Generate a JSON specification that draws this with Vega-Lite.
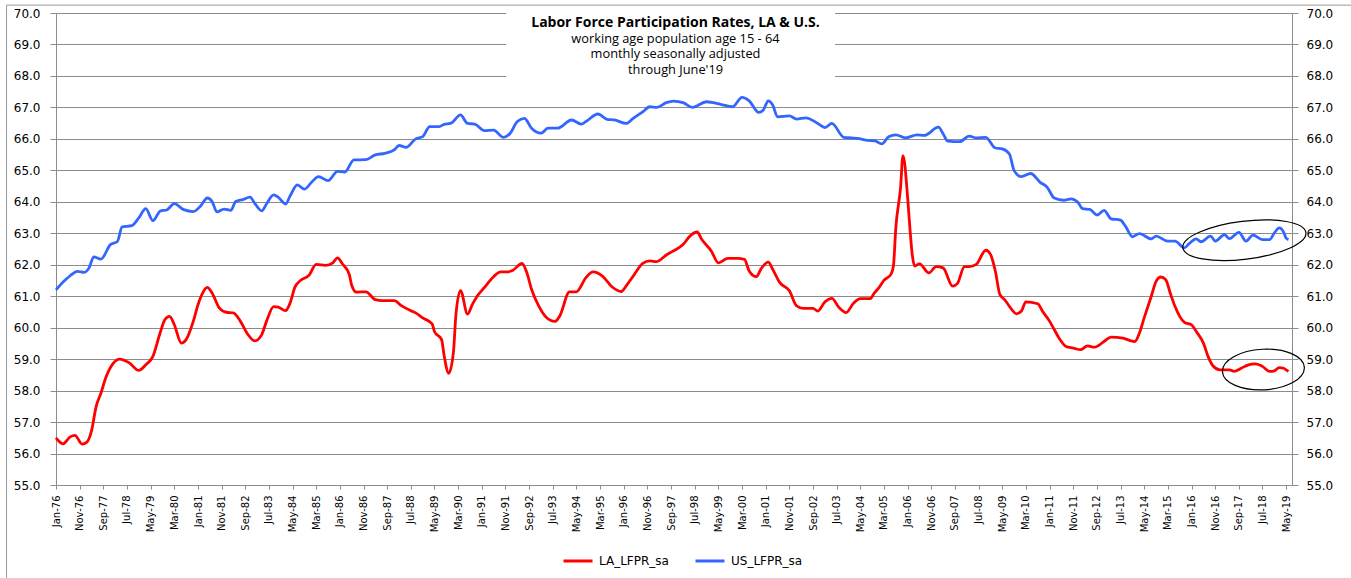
{
  "$schema": "https://vega.github.io/schema/vega-lite/v6.json",
  "width": 1236,
  "height": 472,
  "autosize": {"type": "none"},
  "padding": {"left": 56, "top": 13, "right": 59, "bottom": 93},
  "background": "white",
  "config": {"view": {"stroke": null}},
  "title": {
    "text": "Labor Force Participation Rates, LA & U.S.",
    "subtitle": ["working age population age 15 - 64", "monthly seasonally adjusted", "through June'19"],
    "anchor": "middle",
    "frame": "group",
    "offset": -72,
    "dx": 1.5,
    "font": "Open Sans",
    "fontSize": 14,
    "fontWeight": "bold",
    "color": "black",
    "subtitleFont": "Open Sans",
    "subtitleFontSize": 12.8,
    "subtitleColor": "black",
    "subtitleLineHeight": 15.4,
    "subtitlePadding": 3
  },
  "datasets": {
    "la": [
      {"date": "1976/01/01", "lfpr": 56.5}, {"date": "1976/04/01", "lfpr": 56.31}, {"date": "1976/07/01", "lfpr": 56.53}, {"date": "1976/09/01", "lfpr": 56.58},
      {"date": "1976/12/01", "lfpr": 56.3}, {"date": "1977/02/01", "lfpr": 56.36}, {"date": "1977/04/01", "lfpr": 56.71}, {"date": "1977/06/01", "lfpr": 57.5},
      {"date": "1977/08/01", "lfpr": 57.92}, {"date": "1977/10/01", "lfpr": 58.4}, {"date": "1978/01/01", "lfpr": 58.85}, {"date": "1978/04/01", "lfpr": 59.0},
      {"date": "1978/08/01", "lfpr": 58.88}, {"date": "1978/12/01", "lfpr": 58.64}, {"date": "1979/03/01", "lfpr": 58.82}, {"date": "1979/06/01", "lfpr": 59.09},
      {"date": "1979/09/01", "lfpr": 59.83}, {"date": "1979/11/01", "lfpr": 60.25}, {"date": "1980/01/01", "lfpr": 60.36}, {"date": "1980/03/01", "lfpr": 60.1},
      {"date": "1980/06/01", "lfpr": 59.51}, {"date": "1980/08/01", "lfpr": 59.62}, {"date": "1980/11/01", "lfpr": 60.2}, {"date": "1981/01/01", "lfpr": 60.73},
      {"date": "1981/03/01", "lfpr": 61.1}, {"date": "1981/05/01", "lfpr": 61.28}, {"date": "1981/07/01", "lfpr": 61.1}, {"date": "1981/10/01", "lfpr": 60.63},
      {"date": "1982/01/01", "lfpr": 60.49}, {"date": "1982/04/01", "lfpr": 60.47}, {"date": "1982/07/01", "lfpr": 60.2}, {"date": "1982/10/01", "lfpr": 59.8},
      {"date": "1983/01/01", "lfpr": 59.58}, {"date": "1983/04/01", "lfpr": 59.78}, {"date": "1983/06/01", "lfpr": 60.2}, {"date": "1983/09/01", "lfpr": 60.67},
      {"date": "1983/11/01", "lfpr": 60.65}, {"date": "1984/02/01", "lfpr": 60.54}, {"date": "1984/04/01", "lfpr": 60.79}, {"date": "1984/06/01", "lfpr": 61.29},
      {"date": "1984/08/01", "lfpr": 61.48}, {"date": "1984/12/01", "lfpr": 61.67}, {"date": "1985/03/01", "lfpr": 62.01}, {"date": "1985/07/01", "lfpr": 61.98},
      {"date": "1985/10/01", "lfpr": 62.06}, {"date": "1985/12/01", "lfpr": 62.22}, {"date": "1986/02/01", "lfpr": 62.03}, {"date": "1986/05/01", "lfpr": 61.69},
      {"date": "1986/06/01", "lfpr": 61.35}, {"date": "1986/08/01", "lfpr": 61.13}, {"date": "1986/12/01", "lfpr": 61.14}, {"date": "1987/04/01", "lfpr": 60.89},
      {"date": "1987/07/01", "lfpr": 60.86}, {"date": "1987/12/01", "lfpr": 60.86}, {"date": "1988/03/01", "lfpr": 60.7}, {"date": "1988/07/01", "lfpr": 60.54},
      {"date": "1988/09/01", "lfpr": 60.47}, {"date": "1988/12/01", "lfpr": 60.31}, {"date": "1989/04/01", "lfpr": 60.12}, {"date": "1989/05/01", "lfpr": 59.88},
      {"date": "1989/08/01", "lfpr": 59.62}, {"date": "1989/09/01", "lfpr": 59.14}, {"date": "1989/11/01", "lfpr": 58.55}, {"date": "1990/01/01", "lfpr": 59.24},
      {"date": "1990/02/01", "lfpr": 60.41}, {"date": "1990/04/01", "lfpr": 61.18}, {"date": "1990/07/01", "lfpr": 60.43}, {"date": "1990/09/01", "lfpr": 60.74},
      {"date": "1990/11/01", "lfpr": 61.0}, {"date": "1991/02/01", "lfpr": 61.27}, {"date": "1991/06/01", "lfpr": 61.62}, {"date": "1991/09/01", "lfpr": 61.77},
      {"date": "1991/12/01", "lfpr": 61.77}, {"date": "1992/02/01", "lfpr": 61.82}, {"date": "1992/06/01", "lfpr": 62.04}, {"date": "1992/08/01", "lfpr": 61.75},
      {"date": "1992/10/01", "lfpr": 61.22}, {"date": "1993/01/01", "lfpr": 60.69}, {"date": "1993/04/01", "lfpr": 60.35}, {"date": "1993/08/01", "lfpr": 60.2},
      {"date": "1993/10/01", "lfpr": 60.38}, {"date": "1994/02/01", "lfpr": 61.14}, {"date": "1994/05/01", "lfpr": 61.14}, {"date": "1994/09/01", "lfpr": 61.59},
      {"date": "1994/12/01", "lfpr": 61.77}, {"date": "1995/04/01", "lfpr": 61.64}, {"date": "1995/08/01", "lfpr": 61.3}, {"date": "1995/12/01", "lfpr": 61.15},
      {"date": "1996/02/01", "lfpr": 61.33}, {"date": "1996/05/01", "lfpr": 61.64}, {"date": "1996/09/01", "lfpr": 62.04}, {"date": "1996/12/01", "lfpr": 62.12},
      {"date": "1997/03/01", "lfpr": 62.1}, {"date": "1997/07/01", "lfpr": 62.31}, {"date": "1997/10/01", "lfpr": 62.44}, {"date": "1998/02/01", "lfpr": 62.64},
      {"date": "1998/05/01", "lfpr": 62.91}, {"date": "1998/08/01", "lfpr": 63.04}, {"date": "1998/10/01", "lfpr": 62.8}, {"date": "1999/02/01", "lfpr": 62.43},
      {"date": "1999/05/01", "lfpr": 62.06}, {"date": "1999/09/01", "lfpr": 62.2}, {"date": "2000/01/01", "lfpr": 62.2}, {"date": "2000/04/01", "lfpr": 62.17},
      {"date": "2000/06/01", "lfpr": 61.8}, {"date": "2000/09/01", "lfpr": 61.62}, {"date": "2000/11/01", "lfpr": 61.87}, {"date": "2001/02/01", "lfpr": 62.08},
      {"date": "2001/04/01", "lfpr": 61.85}, {"date": "2001/07/01", "lfpr": 61.43}, {"date": "2001/11/01", "lfpr": 61.17}, {"date": "2002/02/01", "lfpr": 60.69},
      {"date": "2002/05/01", "lfpr": 60.61}, {"date": "2002/09/01", "lfpr": 60.61}, {"date": "2002/11/01", "lfpr": 60.53}, {"date": "2003/02/01", "lfpr": 60.82},
      {"date": "2003/05/01", "lfpr": 60.93}, {"date": "2003/08/01", "lfpr": 60.64}, {"date": "2003/11/01", "lfpr": 60.48}, {"date": "2004/02/01", "lfpr": 60.77},
      {"date": "2004/05/01", "lfpr": 60.92}, {"date": "2004/09/01", "lfpr": 60.92}, {"date": "2004/11/01", "lfpr": 61.11}, {"date": "2005/01/01", "lfpr": 61.29},
      {"date": "2005/03/01", "lfpr": 61.5}, {"date": "2005/06/01", "lfpr": 61.7}, {"date": "2005/07/01", "lfpr": 61.96}, {"date": "2005/08/01", "lfpr": 63.18},
      {"date": "2005/10/01", "lfpr": 64.46}, {"date": "2005/11/01", "lfpr": 65.47}, {"date": "2006/01/01", "lfpr": 64.1}, {"date": "2006/02/01", "lfpr": 63.07},
      {"date": "2006/03/01", "lfpr": 62.3}, {"date": "2006/04/01", "lfpr": 61.96}, {"date": "2006/06/01", "lfpr": 62.03}, {"date": "2006/10/01", "lfpr": 61.74},
      {"date": "2007/01/01", "lfpr": 61.94}, {"date": "2007/04/01", "lfpr": 61.9}, {"date": "2007/08/01", "lfpr": 61.32}, {"date": "2007/10/01", "lfpr": 61.4},
      {"date": "2008/01/01", "lfpr": 61.94}, {"date": "2008/03/01", "lfpr": 61.94}, {"date": "2008/06/01", "lfpr": 62.01}, {"date": "2008/10/01", "lfpr": 62.46},
      {"date": "2008/12/01", "lfpr": 62.33}, {"date": "2009/02/01", "lfpr": 61.8}, {"date": "2009/04/01", "lfpr": 61.05}, {"date": "2009/06/01", "lfpr": 60.89},
      {"date": "2009/08/01", "lfpr": 60.68}, {"date": "2009/11/01", "lfpr": 60.44}, {"date": "2010/01/01", "lfpr": 60.52}, {"date": "2010/03/01", "lfpr": 60.82},
      {"date": "2010/08/01", "lfpr": 60.76}, {"date": "2010/10/01", "lfpr": 60.52}, {"date": "2011/01/01", "lfpr": 60.2}, {"date": "2011/03/01", "lfpr": 59.94},
      {"date": "2011/05/01", "lfpr": 59.67}, {"date": "2011/08/01", "lfpr": 59.4}, {"date": "2011/11/01", "lfpr": 59.35}, {"date": "2012/02/01", "lfpr": 59.3},
      {"date": "2012/05/01", "lfpr": 59.42}, {"date": "2012/08/01", "lfpr": 59.38}, {"date": "2012/12/01", "lfpr": 59.56}, {"date": "2013/03/01", "lfpr": 59.7},
      {"date": "2013/08/01", "lfpr": 59.67}, {"date": "2013/11/01", "lfpr": 59.59}, {"date": "2014/01/01", "lfpr": 59.56}, {"date": "2014/03/01", "lfpr": 59.83},
      {"date": "2014/05/01", "lfpr": 60.31}, {"date": "2014/08/01", "lfpr": 61.0}, {"date": "2014/10/01", "lfpr": 61.47}, {"date": "2014/12/01", "lfpr": 61.61},
      {"date": "2015/02/01", "lfpr": 61.53}, {"date": "2015/04/01", "lfpr": 61.1}, {"date": "2015/06/01", "lfpr": 60.68}, {"date": "2015/08/01", "lfpr": 60.36},
      {"date": "2015/10/01", "lfpr": 60.17}, {"date": "2016/01/01", "lfpr": 60.09}, {"date": "2016/03/01", "lfpr": 59.88}, {"date": "2016/06/01", "lfpr": 59.51},
      {"date": "2016/08/01", "lfpr": 59.08}, {"date": "2016/10/01", "lfpr": 58.79}, {"date": "2017/01/01", "lfpr": 58.66}, {"date": "2017/05/01", "lfpr": 58.66},
      {"date": "2017/07/01", "lfpr": 58.61}, {"date": "2017/10/01", "lfpr": 58.71}, {"date": "2018/01/01", "lfpr": 58.82}, {"date": "2018/04/01", "lfpr": 58.85},
      {"date": "2018/07/01", "lfpr": 58.77}, {"date": "2018/10/01", "lfpr": 58.61}, {"date": "2018/12/01", "lfpr": 58.63}, {"date": "2019/02/01", "lfpr": 58.73},
      {"date": "2019/04/01", "lfpr": 58.71}, {"date": "2019/05/01", "lfpr": 58.66}, {"date": "2019/06/01", "lfpr": 58.61}
    ],
    "us": [
      {"date": "1976/01/01", "lfpr": 61.2}, {"date": "1976/04/01", "lfpr": 61.45}, {"date": "1976/07/01", "lfpr": 61.65}, {"date": "1976/10/01", "lfpr": 61.79},
      {"date": "1977/01/01", "lfpr": 61.76}, {"date": "1977/03/01", "lfpr": 61.9}, {"date": "1977/05/01", "lfpr": 62.25}, {"date": "1977/08/01", "lfpr": 62.18},
      {"date": "1977/12/01", "lfpr": 62.64}, {"date": "1978/03/01", "lfpr": 62.74}, {"date": "1978/05/01", "lfpr": 63.2}, {"date": "1978/09/01", "lfpr": 63.24},
      {"date": "1978/12/01", "lfpr": 63.49}, {"date": "1979/03/01", "lfpr": 63.78}, {"date": "1979/06/01", "lfpr": 63.4}, {"date": "1979/09/01", "lfpr": 63.7},
      {"date": "1979/12/01", "lfpr": 63.75}, {"date": "1980/03/01", "lfpr": 63.94}, {"date": "1980/07/01", "lfpr": 63.75}, {"date": "1980/11/01", "lfpr": 63.69},
      {"date": "1981/02/01", "lfpr": 63.86}, {"date": "1981/05/01", "lfpr": 64.12}, {"date": "1981/07/01", "lfpr": 64.01}, {"date": "1981/09/01", "lfpr": 63.68},
      {"date": "1981/12/01", "lfpr": 63.77}, {"date": "1982/03/01", "lfpr": 63.73}, {"date": "1982/05/01", "lfpr": 64.01}, {"date": "1982/08/01", "lfpr": 64.07},
      {"date": "1982/11/01", "lfpr": 64.15}, {"date": "1983/01/01", "lfpr": 63.95}, {"date": "1983/04/01", "lfpr": 63.71}, {"date": "1983/06/01", "lfpr": 63.93},
      {"date": "1983/09/01", "lfpr": 64.22}, {"date": "1983/11/01", "lfpr": 64.14}, {"date": "1984/02/01", "lfpr": 63.93}, {"date": "1984/04/01", "lfpr": 64.19},
      {"date": "1984/07/01", "lfpr": 64.54}, {"date": "1984/10/01", "lfpr": 64.4}, {"date": "1985/01/01", "lfpr": 64.62}, {"date": "1985/04/01", "lfpr": 64.8},
      {"date": "1985/08/01", "lfpr": 64.67}, {"date": "1985/12/01", "lfpr": 64.97}, {"date": "1986/03/01", "lfpr": 64.94}, {"date": "1986/07/01", "lfpr": 65.33},
      {"date": "1986/12/01", "lfpr": 65.34}, {"date": "1987/04/01", "lfpr": 65.49}, {"date": "1987/08/01", "lfpr": 65.54}, {"date": "1987/12/01", "lfpr": 65.65},
      {"date": "1988/02/01", "lfpr": 65.79}, {"date": "1988/05/01", "lfpr": 65.73}, {"date": "1988/09/01", "lfpr": 66.0}, {"date": "1988/12/01", "lfpr": 66.07},
      {"date": "1989/03/01", "lfpr": 66.39}, {"date": "1989/07/01", "lfpr": 66.39}, {"date": "1989/09/01", "lfpr": 66.46}, {"date": "1989/12/01", "lfpr": 66.5},
      {"date": "1990/04/01", "lfpr": 66.76}, {"date": "1990/07/01", "lfpr": 66.49}, {"date": "1990/10/01", "lfpr": 66.47}, {"date": "1991/02/01", "lfpr": 66.26},
      {"date": "1991/06/01", "lfpr": 66.28}, {"date": "1991/10/01", "lfpr": 66.05}, {"date": "1992/01/01", "lfpr": 66.18}, {"date": "1992/04/01", "lfpr": 66.55},
      {"date": "1992/07/01", "lfpr": 66.65}, {"date": "1992/10/01", "lfpr": 66.34}, {"date": "1993/02/01", "lfpr": 66.18}, {"date": "1993/05/01", "lfpr": 66.34},
      {"date": "1993/09/01", "lfpr": 66.34}, {"date": "1994/03/01", "lfpr": 66.6}, {"date": "1994/07/01", "lfpr": 66.47}, {"date": "1994/09/01", "lfpr": 66.55},
      {"date": "1995/02/01", "lfpr": 66.79}, {"date": "1995/06/01", "lfpr": 66.62}, {"date": "1995/09/01", "lfpr": 66.6}, {"date": "1996/02/01", "lfpr": 66.49},
      {"date": "1996/05/01", "lfpr": 66.65}, {"date": "1996/09/01", "lfpr": 66.86}, {"date": "1996/12/01", "lfpr": 67.02}, {"date": "1997/03/01", "lfpr": 67.0},
      {"date": "1997/07/01", "lfpr": 67.15}, {"date": "1997/10/01", "lfpr": 67.2}, {"date": "1998/02/01", "lfpr": 67.15}, {"date": "1998/06/01", "lfpr": 67.0},
      {"date": "1998/12/01", "lfpr": 67.18}, {"date": "1999/06/01", "lfpr": 67.1}, {"date": "1999/11/01", "lfpr": 67.02}, {"date": "2000/03/01", "lfpr": 67.32},
      {"date": "2000/06/01", "lfpr": 67.21}, {"date": "2000/10/01", "lfpr": 66.84}, {"date": "2000/12/01", "lfpr": 66.92}, {"date": "2001/02/01", "lfpr": 67.21},
      {"date": "2001/04/01", "lfpr": 67.07}, {"date": "2001/06/01", "lfpr": 66.7}, {"date": "2001/11/01", "lfpr": 66.73}, {"date": "2002/02/01", "lfpr": 66.63},
      {"date": "2002/06/01", "lfpr": 66.67}, {"date": "2002/11/01", "lfpr": 66.49}, {"date": "2003/02/01", "lfpr": 66.36}, {"date": "2003/05/01", "lfpr": 66.49},
      {"date": "2003/10/01", "lfpr": 66.05}, {"date": "2004/01/01", "lfpr": 66.03}, {"date": "2004/05/01", "lfpr": 66.0}, {"date": "2004/08/01", "lfpr": 65.95},
      {"date": "2004/11/01", "lfpr": 65.94}, {"date": "2005/02/01", "lfpr": 65.84}, {"date": "2005/05/01", "lfpr": 66.07}, {"date": "2005/08/01", "lfpr": 66.13},
      {"date": "2005/12/01", "lfpr": 66.03}, {"date": "2006/05/01", "lfpr": 66.13}, {"date": "2006/08/01", "lfpr": 66.11}, {"date": "2007/02/01", "lfpr": 66.37},
      {"date": "2007/04/01", "lfpr": 66.16}, {"date": "2007/06/01", "lfpr": 65.93}, {"date": "2007/11/01", "lfpr": 65.91}, {"date": "2008/03/01", "lfpr": 66.09},
      {"date": "2008/06/01", "lfpr": 66.03}, {"date": "2008/10/01", "lfpr": 66.05}, {"date": "2009/02/01", "lfpr": 65.71}, {"date": "2009/05/01", "lfpr": 65.68},
      {"date": "2009/08/01", "lfpr": 65.52}, {"date": "2009/10/01", "lfpr": 64.99}, {"date": "2010/01/01", "lfpr": 64.8}, {"date": "2010/05/01", "lfpr": 64.9},
      {"date": "2010/09/01", "lfpr": 64.62}, {"date": "2010/12/01", "lfpr": 64.46}, {"date": "2011/03/01", "lfpr": 64.12}, {"date": "2011/07/01", "lfpr": 64.05},
      {"date": "2011/10/01", "lfpr": 64.09}, {"date": "2012/01/01", "lfpr": 63.98}, {"date": "2012/03/01", "lfpr": 63.78}, {"date": "2012/06/01", "lfpr": 63.76},
      {"date": "2012/09/01", "lfpr": 63.58}, {"date": "2012/12/01", "lfpr": 63.73}, {"date": "2013/03/01", "lfpr": 63.46}, {"date": "2013/07/01", "lfpr": 63.42},
      {"date": "2013/09/01", "lfpr": 63.23}, {"date": "2013/12/01", "lfpr": 62.89}, {"date": "2014/03/01", "lfpr": 62.99}, {"date": "2014/08/01", "lfpr": 62.82},
      {"date": "2014/10/01", "lfpr": 62.91}, {"date": "2015/03/01", "lfpr": 62.75}, {"date": "2015/06/01", "lfpr": 62.75}, {"date": "2015/10/01", "lfpr": 62.54},
      {"date": "2015/12/01", "lfpr": 62.67}, {"date": "2016/03/01", "lfpr": 62.82}, {"date": "2016/05/01", "lfpr": 62.73}, {"date": "2016/09/01", "lfpr": 62.91},
      {"date": "2016/11/01", "lfpr": 62.75}, {"date": "2017/03/01", "lfpr": 62.96}, {"date": "2017/05/01", "lfpr": 62.83}, {"date": "2017/09/01", "lfpr": 63.03},
      {"date": "2017/12/01", "lfpr": 62.75}, {"date": "2018/03/01", "lfpr": 62.94}, {"date": "2018/07/01", "lfpr": 62.8}, {"date": "2018/10/01", "lfpr": 62.8},
      {"date": "2018/12/01", "lfpr": 63.01}, {"date": "2019/02/01", "lfpr": 63.17}, {"date": "2019/04/01", "lfpr": 63.03}, {"date": "2019/05/01", "lfpr": 62.85},
      {"date": "2019/06/01", "lfpr": 62.8}
    ]
  },
  "layer": [
    {
      "data": {"name": "la"},
      "mark": {"type": "line", "strokeWidth": 2.8, "interpolate": "monotone"},
      "encoding": {
        "x": {
          "field": "date", "type": "temporal",
          "scale": {"domain": [{"year": 1976, "month": 1, "date": 1}, {"year": 2019, "month": 7, "date": 16}]},
          "axis": {
            "orient": "bottom",
            "values": {"expr": "[datetime(1976,0,1),datetime(1976,10,1),datetime(1977,8,1),datetime(1978,6,1),datetime(1979,4,1),datetime(1980,2,1),datetime(1981,0,1),datetime(1981,10,1),datetime(1982,8,1),datetime(1983,6,1),datetime(1984,4,1),datetime(1985,2,1),datetime(1986,0,1),datetime(1986,10,1),datetime(1987,8,1),datetime(1988,6,1),datetime(1989,4,1),datetime(1990,2,1),datetime(1991,0,1),datetime(1991,10,1),datetime(1992,8,1),datetime(1993,6,1),datetime(1994,4,1),datetime(1995,2,1),datetime(1996,0,1),datetime(1996,10,1),datetime(1997,8,1),datetime(1998,6,1),datetime(1999,4,1),datetime(2000,2,1),datetime(2001,0,1),datetime(2001,10,1),datetime(2002,8,1),datetime(2003,6,1),datetime(2004,4,1),datetime(2005,2,1),datetime(2006,0,1),datetime(2006,10,1),datetime(2007,8,1),datetime(2008,6,1),datetime(2009,4,1),datetime(2010,2,1),datetime(2011,0,1),datetime(2011,10,1),datetime(2012,8,1),datetime(2013,6,1),datetime(2014,4,1),datetime(2015,2,1),datetime(2016,0,1),datetime(2016,10,1),datetime(2017,8,1),datetime(2018,6,1),datetime(2019,4,1)]"},
            "format": "%b-%y",
            "labelAngle": 270,
            "labelFont": "DejaVu Sans",
            "labelFontSize": 10,
            "labelColor": "black",
            "labelOverlap": false,
            "labelFlush": false,
            "labelPadding": 6,
            "tickSize": 4,
            "tickColor": "#8c8c8c",
            "domainColor": "#8c8c8c",
            "grid": false,
            "title": null
          }
        },
        "y": {
          "field": "lfpr", "type": "quantitative",
          "scale": {"domain": [55, 70], "nice": false, "zero": false},
          "axis": {
            "orient": "left",
            "values": [55, 56, 57, 58, 59, 60, 61, 62, 63, 64, 65, 66, 67, 68, 69, 70],
            "format": ".1f",
            "labelFont": "DejaVu Sans",
            "labelFontSize": 12,
            "labelColor": "black",
            "labelPadding": 10,
            "tickSize": 6,
            "tickColor": "#8c8c8c",
            "domainColor": "#8c8c8c",
            "grid": true,
            "gridColor": "#8c8c8c",
            "gridWidth": 1,
            "title": null
          }
        },
        "color": {
          "datum": "LA_LFPR_sa", "type": "nominal",
          "scale": {"domain": ["LA_LFPR_sa", "US_LFPR_sa"], "range": ["#FF0000", "#3366FF"]},
          "legend": {
            "orient": "none",
            "legendX": 506,
            "legendY": 532,
            "direction": "horizontal",
            "title": null,
            "symbolType": "stroke",
            "symbolStrokeWidth": 3,
            "symbolSize": 841,
            "labelFont": "DejaVu Sans",
            "labelFontSize": 12,
            "labelColor": "black",
            "labelOffset": 5,
            "columnPadding": 20
          }
        }
      }
    },
    {
      "data": {"name": "us"},
      "mark": {"type": "line", "strokeWidth": 2.8, "interpolate": "monotone"},
      "encoding": {
        "x": {"field": "date", "type": "temporal", "axis": null},
        "y": {
          "field": "lfpr", "type": "quantitative",
          "axis": {
            "orient": "right",
            "values": [55, 56, 57, 58, 59, 60, 61, 62, 63, 64, 65, 66, 67, 68, 69, 70],
            "format": ".1f",
            "labelFont": "DejaVu Sans",
            "labelFontSize": 12,
            "labelColor": "black",
            "labelPadding": 8,
            "tickSize": 6,
            "tickColor": "#8c8c8c",
            "domainColor": "#8c8c8c",
            "grid": false,
            "title": null
          }
        },
        "color": {"datum": "US_LFPR_sa", "type": "nominal"}
      }
    },
    {
      "data": {"values": [{}]},
      "mark": {"type": "rule", "color": "#9a9a9a", "strokeWidth": 1, "clip": false},
      "encoding": {
        "x": {"datum": {"year": 1974, "month": 4, "date": 5}, "type": "temporal", "axis": null},
        "y": {"datum": 70.25, "type": "quantitative", "axis": null},
        "y2": {"datum": 52}
      }
    },
    {
      "data": {"values": [{}]},
      "mark": {"type": "rule", "color": "#9a9a9a", "strokeWidth": 1, "clip": false},
      "encoding": {
        "x": {"datum": {"year": 1974, "month": 4, "date": 5}, "type": "temporal", "axis": null},
        "x2": {"datum": {"year": 2022, "month": 1, "date": 1}},
        "y": {"datum": 70.25, "type": "quantitative", "axis": null}
      }
    },
    {
      "data": {"values": [{}]},
      "mark": {"type": "rect", "fill": "white", "strokeWidth": 0},
      "encoding": {
        "x": {"datum": {"year": 1991, "month": 11, "date": 10}, "type": "temporal", "axis": null},
        "x2": {"datum": {"year": 2003, "month": 6, "date": 12}},
        "y": {"datum": 70.1, "type": "quantitative", "axis": null},
        "y2": {"datum": 67.62}
      }
    },
    {
      "data": {"values": [{}]},
      "mark": {"type": "point", "shape": "M 1 0 C 1 0.1693 0.5523 0.3065 0 0.3065 C -0.5523 0.3065 -1 0.1693 -1 0 C -1 -0.1693 -0.5523 -0.3065 0 -0.3065 C 0.5523 -0.3065 1 -0.1693 1 0 Z", "size": 15376, "angle": -7, "filled": false, "stroke": "black", "strokeWidth": 1.2, "opacity": 1},
      "encoding": {
        "x": {"datum": {"year": 2017, "month": 11, "date": 10}, "type": "temporal", "axis": null},
        "y": {"datum": 62.78, "type": "quantitative", "axis": null}
      }
    },
    {
      "data": {"values": [{}]},
      "mark": {"type": "point", "shape": "M 1 0 C 1 0.2734 0.5523 0.495 0 0.495 C -0.5523 0.495 -1 0.2734 -1 0 C -1 -0.2734 -0.5523 -0.495 0 -0.495 C 0.5523 -0.495 1 -0.2734 1 0 Z", "size": 6724, "angle": -3, "filled": false, "stroke": "black", "strokeWidth": 1.2, "opacity": 1},
      "encoding": {
        "x": {"datum": {"year": 2018, "month": 7, "date": 13}, "type": "temporal", "axis": null},
        "y": {"datum": 58.67, "type": "quantitative", "axis": null}
      }
    }
  ],
  "resolve": {"axis": {"x": "independent", "y": "independent"}}
}
